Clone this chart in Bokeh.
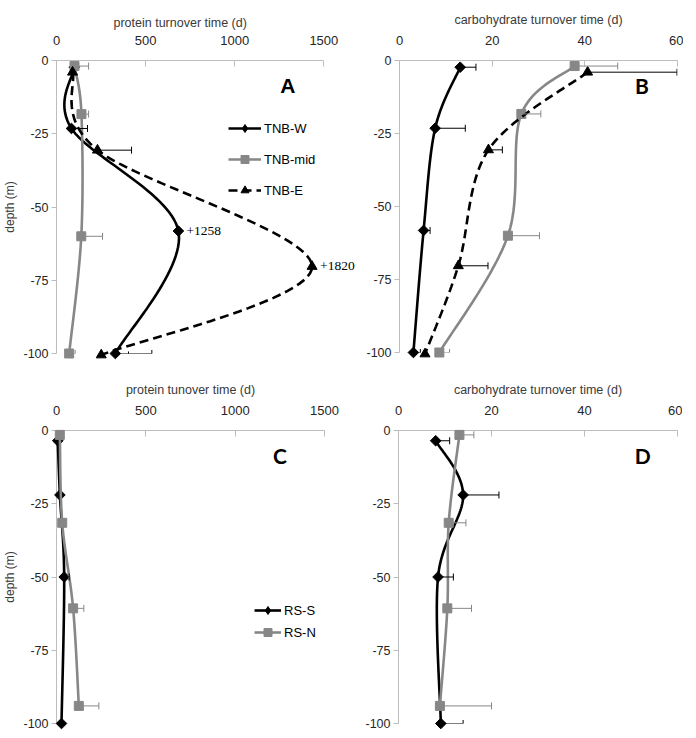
import math
from bokeh.plotting import figure
from bokeh.layouts import column, row
from bokeh.models import (FixedTicker, Range1d, Whisker, TeeHead, ColumnDataSource,
                          Legend, LegendItem, Label, LabelSet)
from bokeh.embed import file_html
from bokeh.resources import INLINE

# ---------------- data ----------------
depth_ticks = [0, -25, -50, -75, -100]
depth_tick_labels = ["0", "-25", "-50", "-75", "-100"]
prot_ticks = [0, 500, 1000, 1500]
carb_ticks = [0, 20, 40, 60]

# TNB stations (panels A, B)
depth_W = [-2.3, -23.2, -58.2, -100]
depth_mid = [-1.9, -18.3, -60, -100]
depth_E = [-4, -30.6, -70.3, -100.5]

prot_W = [100, 84, 684, 330]
prot_W_err = [0, 90, 0, 205]
prot_mid = [101, 140, 139, 71]
prot_mid_err = [79, 40, 119, 34]
prot_E = [90, 230, 1434, 251]
prot_E_err = [0, 191, 0, 153]
prot_W_offscale = ["", "", "+1258", ""]
prot_E_offscale = ["", "", "+1820", ""]

carb_W = [13.1, 7.7, 5.2, 3.0]
carb_W_err = [3.4, 6.5, 1.4, 1.5]
carb_mid = [37.8, 26.3, 23.4, 8.6]
carb_mid_err = [9.3, 4.2, 6.8, 2.2]
carb_E = [40.6, 19.2, 12.7, 5.5]
carb_E_err = [19.3, 3.0, 6.4, 0]

# RS stations (panels C, D)
depth_S = [-3.5, -22, -50, -100]
depth_N = [-1.5, -31.5, -60.7, -94]
prot_S = [7, 19, 43, 28]
prot_S_err = [0, 0, 28, 0]
prot_N = [18.5, 32, 93, 125]
prot_N_err = [0, 0, 60, 112]
carb_S = [8.0, 13.9, 8.5, 9.1]
carb_S_err = [3.0, 7.7, 3.3, 4.8]
carb_N = [13.1, 10.8, 10.5, 8.9]
carb_N_err = [3.1, 3.7, 5.2, 11.1]

BLACK = "#000000"
GRAY = "#878787"
AXIS_GRAY = "#bdbdbd"
SANS = "Liberation Sans"

# marker styles: (marker, size, angle, legend marker)
DIAMOND = ("square", 7.5, math.pi / 4, "diamond")
SQUARE = ("square", 9, 0.0, None)
TRIANGLE = ("triangle", 10, 0.0, None)


def smooth(xs, ys, sx, sy, n=30):
    """Excel-like smoothed line (Catmull-Rom Bezier) computed in pixel space."""
    P = [(x * sx, y * sy) for x, y in zip(xs, ys)]
    ox, oy = [], []
    m = len(P)
    for i in range(m - 1):
        p0 = P[i - 1] if i > 0 else P[i]
        p1, p2 = P[i], P[i + 1]
        p3 = P[i + 2] if i + 2 < m else P[i + 1]
        c1 = (p1[0] + (p2[0] - p0[0]) / 6, p1[1] + (p2[1] - p0[1]) / 6)
        c2 = (p2[0] - (p3[0] - p1[0]) / 6, p2[1] - (p3[1] - p1[1]) / 6)
        for k in range(n + (1 if i == m - 2 else 0)):
            t = k / n
            a, b, c, d = (1 - t) ** 3, 3 * t * (1 - t) ** 2, 3 * t * t * (1 - t), t ** 3
            ox.append((a * p1[0] + b * c1[0] + c * c2[0] + d * p2[0]) / sx)
            oy.append((a * p1[1] + b * c1[1] + c * c2[1] + d * p2[1]) / sy)
    return ox, oy


def make_panel(fw, fh, borders, xmax, xbound, xticks, xlabel, ylabel, title_offset=None):
    bl, br, bt, bb = borders
    p = figure(frame_width=fw, frame_height=fh, output_backend="svg", toolbar_location=None,
               x_range=Range1d(0, xmax), y_range=Range1d(-100, 0),
               x_axis_location="above", y_axis_location="left",
               min_border_left=bl, min_border_right=br, min_border_top=bt,
               min_border_bottom=bb, background_fill_color="white",
               border_fill_color="white", outline_line_color=None)
    p.xgrid.visible = False
    p.ygrid.visible = False
    xa = p.xaxis[0]
    xa.ticker = FixedTicker(ticks=xticks)
    xa.bounds = (0, xbound)
    xa.axis_line_color = AXIS_GRAY
    xa.major_tick_line_color = AXIS_GRAY
    xa.minor_tick_line_color = None
    xa.major_tick_in = 6
    xa.major_tick_out = 0
    xa.major_label_standoff = 16
    xa.major_label_text_font = SANS
    xa.major_label_text_font_size = "13px"
    xa.major_label_text_color = "#262626"
    if title_offset is None:
        xa.axis_label = xlabel
        xa.axis_label_standoff = 6
        xa.axis_label_text_font = SANS
        xa.axis_label_text_font_size = "12.5px"
        xa.axis_label_text_font_style = "normal"
        xa.axis_label_text_color = "#3a3a3a"
    else:
        # axis title over the 0..xbound part of a wider frame
        p.title.text = xlabel
        p.title.align = "left"
        p.title.offset = title_offset
        p.title.standoff = 6
        p.title.text_font = SANS
        p.title.text_font_size = "12.5px"
        p.title.text_font_style = "normal"
        p.title.text_color = "#3a3a3a"
    ya = p.yaxis[0]
    ya.ticker = FixedTicker(ticks=depth_ticks)
    ya.major_label_overrides = {t: l for t, l in zip(depth_ticks, depth_tick_labels)}
    ya.axis_line_color = AXIS_GRAY
    ya.major_tick_line_color = AXIS_GRAY
    ya.minor_tick_line_color = None
    ya.major_tick_in = 0
    ya.major_tick_out = 5
    ya.major_label_standoff = 3
    ya.major_label_text_font = SANS
    ya.major_label_text_font_size = "12.5px"
    ya.major_label_text_color = "#262626"
    if ylabel:
        ya.axis_label = ylabel
        ya.axis_label_standoff = 3
        ya.axis_label_text_font = SANS
        ya.axis_label_text_font_size = "12px"
        ya.axis_label_text_font_style = "normal"
        ya.axis_label_text_color = "#3a3a3a"
    return p


def add_series(p, xs, ys, errs, color, mstyle, dash, fw, fh, xmax, offscale=None):
    marker, size, angle, legend_marker = mstyle
    sx = fw / xmax
    sy = fh / 100.0
    cx, cy = smooth(xs, ys, sx, sy)
    lr = p.line(cx, cy, line_color=color, line_width=2.6, line_dash=dash)
    lr.level = "overlay"
    # error bars (plus side only)
    ex = [x for x, e in zip(xs, errs) if e > 0]
    ey = [y for y, e in zip(ys, errs) if e > 0]
    eu = [x + e for x, e in zip(xs, errs) if e > 0]
    if ex:
        src = ColumnDataSource(dict(base=ey, lower=ex, upper=eu))
        w = Whisker(source=src, base="base", lower="lower", upper="upper",
                    dimension="width", line_color=color, line_width=1,
                    lower_head=None,
                    upper_head=TeeHead(size=7, line_color=color, line_width=1))
        w.level = "overlay"
        p.add_layout(w)
    sr = p.scatter(xs, ys, marker=marker, size=size, angle=angle, fill_color=color,
                   line_color=color, line_width=1)
    sr.level = "overlay"
    legend_renderers = [lr, sr]
    if legend_marker:
        # legend swatch only (no visible data point)
        gr = p.scatter([float("nan")], [float("nan")], marker=legend_marker, size=12,
                       fill_color=color, line_color=color)
        legend_renderers = [lr, gr]
    if offscale:
        src = ColumnDataSource(dict(
            x=[x for x, t in zip(xs, offscale) if t],
            y=[y for y, t in zip(ys, offscale) if t],
            t=[t for t in offscale if t]))
        ls = LabelSet(source=src, x="x", y="y", text="t", x_offset=8,
                      text_font="Liberation Serif", text_font_size="13.5px",
                      text_color="#000000", text_baseline="middle", text_align="left")
        ls.level = "overlay"
        p.add_layout(ls)
    return legend_renderers


def add_letter(p, x, y, txt, font):
    p.add_layout(Label(x=x, y=y, text=txt, text_font=font, text_font_size="21px",
                       text_font_style="bold", text_align="center",
                       text_baseline="middle", text_color="#000000"))


def add_legend(p, items, loc, spacing, gw):
    lg = Legend(items=items, location=loc, orientation="vertical",
                label_text_font=SANS, label_text_font_size="13px",
                label_text_color="#000000", glyph_width=gw, glyph_height=20,
                label_height=20, label_standoff=3, spacing=spacing, padding=0,
                margin=0, border_line_color=None, background_fill_alpha=0)
    p.add_layout(lg)


# ---------------- panel A ----------------
fwA, fhA, xmaxA = 303, 293, 1700
pA = make_panel(fwA, fhA, (50, 0, 58, 12), xmaxA, 1500, prot_ticks,
                "protein turnover time (d)", "depth (m)", title_offset=57)
aW = add_series(pA, prot_W, depth_W, prot_W_err, BLACK, DIAMOND, "solid",
                fwA, fhA, xmaxA, prot_W_offscale)
aM = add_series(pA, prot_mid, depth_mid, prot_mid_err, GRAY, SQUARE, "solid",
                fwA, fhA, xmaxA)
aE = add_series(pA, prot_E, depth_E, prot_E_err, BLACK, TRIANGLE, "9 5",
                fwA, fhA, xmaxA, prot_E_offscale)
add_letter(pA, 1298, -8.5, "A", SANS)
add_legend(pA, [LegendItem(label="TNB-W", renderers=aW),
                LegendItem(label="TNB-mid", renderers=aM),
                LegendItem(label="TNB-E", renderers=aE)], (172, 153), 11, 33)

# ---------------- panel B ----------------
fwB, fhB = 278, 292
pB = make_panel(fwB, fhB, (40, 6, 60, 11), 60, 60, carb_ticks,
                "carbohydrate turnover time (d)", None)
add_series(pB, carb_W, depth_W, carb_W_err, BLACK, DIAMOND, "solid", fwB, fhB, 60)
add_series(pB, carb_mid, depth_mid, carb_mid_err, GRAY, SQUARE, "solid", fwB, fhB, 60)
add_series(pB, carb_E, depth_E, carb_E_err, BLACK, TRIANGLE, "9 5", fwB, fhB, 60)
add_letter(pB, 52.3, -8.7, "B", "Lato")

# ---------------- panel C ----------------
fwC, fhC = 268, 293
pC = make_panel(fwC, fhC, (52, 33, 67, 8), 1500, 1500, prot_ticks,
                "protein tunover time (d)", "depth (m)")
cS = add_series(pC, prot_S, depth_S, prot_S_err, BLACK, DIAMOND, "solid", fwC, fhC, 1500)
cN = add_series(pC, prot_N, depth_N, prot_N_err, GRAY, SQUARE, "solid", fwC, fhC, 1500)
add_letter(pC, 1251, -8.5, "C", "Lato")
add_legend(pC, [LegendItem(label="RS-S", renderers=cS),
                LegendItem(label="RS-N", renderers=cN)], (198, 81), 2, 27)

# ---------------- panel D ----------------
fwD, fhD = 279, 293
pD = make_panel(fwD, fhD, (41, 5, 64, 11), 60, 60, carb_ticks,
                "carbohydrate turnover time (d)", None)
add_series(pD, carb_S, depth_S, carb_S_err, BLACK, DIAMOND, "solid", fwD, fhD, 60)
add_series(pD, carb_N, depth_N, carb_N_err, GRAY, SQUARE, "solid", fwD, fhD, 60)
add_letter(pD, 52.5, -8.5, "D", "Lato")

layout = column(row(pA, pB), row(pC, pD))
open("out.html", "w").write(file_html(layout, INLINE))
